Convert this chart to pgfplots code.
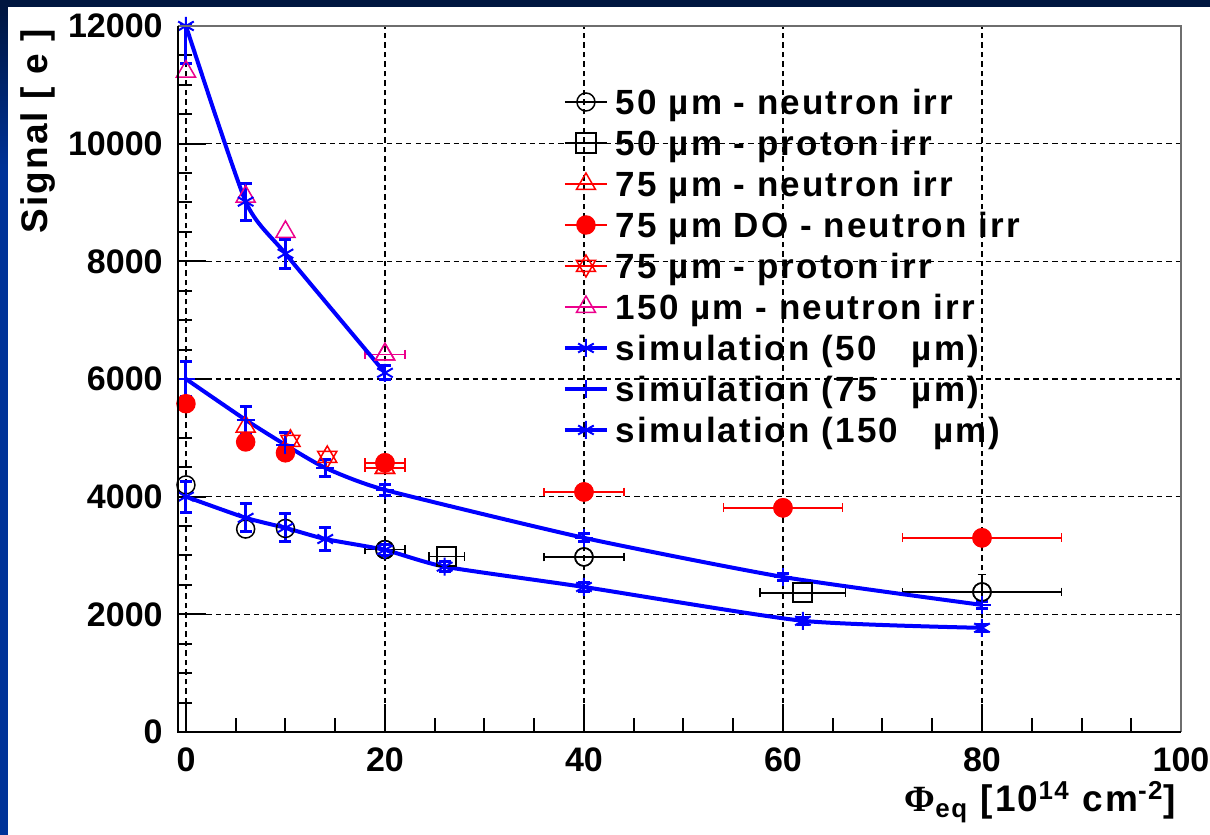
\documentclass[border=0pt]{standalone}
\usepackage{pgfplots}
\pgfplotsset{compat=1.18}
\usepackage{fontspec}
\setmainfont{Liberation Sans}
\newfontfamily\legfont[LetterSpace=6.0]{Liberation Sans}
\newfontfamily\phifont{Liberation Serif}
\definecolor{navyband}{RGB}{0,22,64}
\definecolor{leftblue}{RGB}{0,51,153}
\definecolor{framegray}{RGB}{110,110,110}
\pgfdeclareplotmark{david}{%
  \pgfpathmoveto{\pgfqpoint{0pt}{\pgfplotmarksize}}%
  \pgfpathlineto{\pgfqpointpolar{210}{\pgfplotmarksize}}%
  \pgfpathlineto{\pgfqpointpolar{330}{\pgfplotmarksize}}%
  \pgfpathclose
  \pgfpathmoveto{\pgfqpoint{0pt}{-\pgfplotmarksize}}%
  \pgfpathlineto{\pgfqpointpolar{30}{\pgfplotmarksize}}%
  \pgfpathlineto{\pgfqpointpolar{150}{\pgfplotmarksize}}%
  \pgfpathclose
  \pgfusepathqstroke
}
\pgfplotstableread{
x y
0 4200
6 3450
10 3460
20 3100
40 2975
80 2380
}\nfifty
\pgfplotstableread{
x y ex ey
20 3100 2 0
40 2975 4 0
80 2380 8 300
}\nfiftyerr
\pgfplotstableread{
x y ex
26.2 2980 1.8
62 2365 4.3
}\pfifty
\pgfplotstableread{
x y ex
6 5190 0
20 4490 2
}\nseventyfive
\pgfplotstableread{
x y ex
20 4490 2
}\nseventyfiveerr
\pgfplotstableread{
x y
0 5580
6 4930
10 4745
20 4575
40 4080
60 3810
80 3300
}\doseventyfive
\pgfplotstableread{
x y ex
20 4575 2
40 4080 4
60 3810 6
80 3300 8
}\doseventyfiveerr
\pgfplotstableread{
x y
10.5 4950
14.2 4675
}\pseventyfive
\pgfplotstableread{
x y
0 11225
6 9100
10 8500
20 6420
}\nonefifty
\pgfplotstableread{
x y ex
20 6420 2
}\nonefiftyerr
\pgfplotstableread{
x y e
0 4000 265
6 3640 240
10 3470 240
14 3280 190
20 3095 100
26 2810 90
40 2465 80
62 1890 60
80 1770 60
}\simfifty
\pgfplotstableread{
x y e
0 6000 300
6 5305 230
10 4880 210
14 4490 150
20 4115 100
40 3300 70
60 2635 60
80 2160 60
}\simseventyfive
\pgfplotstableread{
x y ep em
0 12000 0 630
6 9015 315 315
10 8130 245 245
20 6105 120 120
}\simonefifty
\pgfplotsset{
  xerrs/.style={error bars/.cd, x dir=both, x explicit,
    error bar style={line width=0.75bp},
    error mark options={rotate=90, mark size=2.2bp, line width=0.75bp}},
  simstyle/.style={blue, line width=2bp, smooth, tension=0.35, mark size=4.5bp, mark options={line width=1bp}},
  yerrs/.style={error bars/.cd, y dir=both, y explicit,
    error bar style={line width=1.5bp},
    error mark options={rotate=90, mark size=3bp, line width=1.5bp}},
}
\begin{document}
\begin{tikzpicture}
\path[use as bounding box] (-89bp,-51.5bp) rectangle (516bp,366bp);
\fill[white] (-89bp,-51.5bp) rectangle (516bp,366bp);
\fill[leftblue] (-89bp,-51.5bp) rectangle (-85bp,362.5bp);
\shade[top color=navyband, bottom color=leftblue] (-89bp,280bp) rectangle (-85bp,362.5bp);
\fill[navyband] (-89bp,362.5bp) rectangle (516bp,366bp);
\begin{axis}[
  scale only axis, width=501.5bp, height=353bp,
  at={(0,0)}, anchor=south west,
  xmin=-0.8, xmax=100, ymin=0, ymax=12000,
  xtick={0,20,...,100}, ytick={0,2000,...,12000},
  minor x tick num=3, minor y tick num=3,
  tick align=inside, tick pos=left,
  major tick length=14bp, minor tick length=7bp,
  tick style={black, line width=1bp},
  grid=major, grid style={black, line width=0.75bp, dash pattern=on 2.75bp off 2bp},
  axis line style={draw=none},
  scaled ticks=false,
  ticklabel style={font=\fontsize{17bp}{20bp}\selectfont\bfseries},
  /pgf/number format/assume math mode=true,
  /pgf/number format/set thousands separator={},
  xticklabel style={inner sep=0pt, yshift=-7.5bp},
  yticklabel style={inner sep=0pt, xshift=-7.5bp},
  xlabel={{\phifont Φ}\textsubscript{eq} [10\textsuperscript{14} cm\textsuperscript{-2}]},
  ylabel={Signal [ e ]},
  x label style={at={(axis description cs:1.002,-0.1133)}, anchor=base east, font=\legfont\fontsize{18.5bp}{20bp}\selectfont\bfseries},
  y label style={at={(axis description cs:-0.1306,1.0057)}, anchor=base east, font=\legfont\fontsize{18.5bp}{20bp}\selectfont\bfseries},
  clip=false,
  legend style={at={(axis description cs:0.3838,0.9214)}, anchor=north west,
    draw=none, fill=none, inner sep=0pt, outer sep=0pt, row sep=0pt, column sep=0pt,
    font=\legfont\fontsize{17.5bp}{20bp}\selectfont\bfseries,
    nodes={inner xsep=3.5bp, inner ysep=0pt, text height=16.5bp, text depth=4bp}},
  legend cell align=left,
  legend image code/.code={
    \draw[#1] (0bp,0bp) -- (21bp,0bp);
    \path[#1] plot coordinates {(10.5bp,0bp)};
  },
]
% data
\addplot[black, only marks, mark=o, mark size=4.5bp, line width=0.75bp] table[x=x,y=y] {\nfifty};
\addlegendentry{50 µm - neutron irr}
\addplot[black, line width=1bp, only marks, mark=square, mark size=4.8bp, mark options={line width=1bp}, xerrs]
  table[x=x,y=y,x error=ex] {\pfifty};
\addlegendentry{50 µm - proton irr}
\addplot[red, only marks, mark=triangle, mark size=5.5bp, line width=0.75bp] table[x=x,y=y] {\nseventyfive};
\addlegendentry{75 µm - neutron irr}
\addplot[red, only marks, mark=*, mark size=4.5bp, line width=0.75bp, mark options={fill=red}] table[x=x,y=y] {\doseventyfive};
\addlegendentry{75 µm DO - neutron irr}
\addplot[red, only marks, mark=david, mark size=5.5bp, line width=0.75bp] table[x=x,y=y] {\pseventyfive};
\addlegendentry{75 µm - proton irr}
\addplot[magenta, only marks, mark=triangle, mark size=5.5bp, line width=0.75bp] table[x=x,y=y] {\nonefifty};
\addlegendentry{150 µm - neutron irr}
% error-bar subsets
\addplot[forget plot, black, only marks, mark=o, mark size=4.5bp, line width=0.75bp,
  error bars/.cd, x dir=both, x explicit, y dir=plus, y explicit, error bar style={line width=0.75bp},
  error mark options={rotate=90, mark size=2.2bp, line width=0.75bp}]
  table[x=x,y=y,x error=ex,y error=ey] {\nfiftyerr};
\addplot[forget plot, red, only marks, mark=triangle, mark size=5.5bp, line width=0.75bp, xerrs]
  table[x=x,y=y,x error=ex] {\nseventyfiveerr};
\addplot[forget plot, red, only marks, mark=*, mark size=4.5bp, line width=0.75bp, mark options={fill=red}, xerrs]
  table[x=x,y=y,x error=ex] {\doseventyfiveerr};
\addplot[forget plot, magenta, only marks, mark=triangle, mark size=5.5bp, line width=0.75bp, xerrs]
  table[x=x,y=y,x error=ex] {\nonefiftyerr};
% simulations
\addplot[simstyle, mark=asterisk, yerrs] table[x=x,y=y,y error=e] {\simfifty};
\addlegendentry{simulation (50\ \ \ µm)}
\addplot[simstyle, mark=+, yerrs] table[x=x,y=y,y error=e] {\simseventyfive};
\addlegendentry{simulation (75\ \ \ µm)}
\addplot[simstyle, mark=asterisk, yerrs] table[x=x,y=y,y error plus=ep,y error minus=em] {\simonefifty};
\addlegendentry{simulation (150\ \ \ µm)}
\end{axis}
\draw[framegray, line width=1bp] (0bp,353bp) -- (501.5bp,353bp) -- (501.5bp,0bp);
\draw[black, line width=1bp] (0bp,353bp) -- (0bp,0bp);
\draw[black, line width=1.4bp] (-0.5bp,0bp) -- (501.5bp,0bp);
\end{tikzpicture}
\end{document}
